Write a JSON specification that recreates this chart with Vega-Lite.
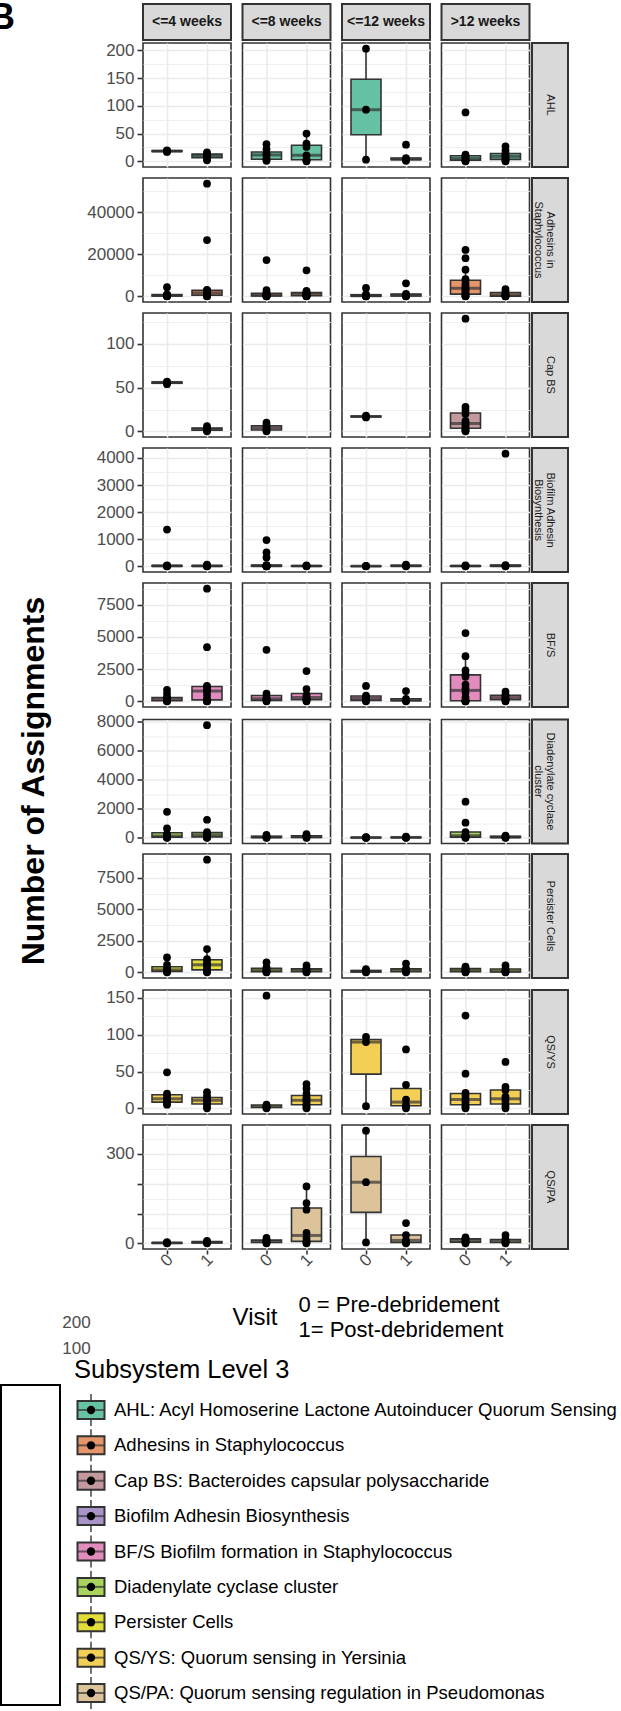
{
"$schema": "https://vega.github.io/schema/vega-lite/v6.json",
"padding": {"left": -11, "top": 0, "right": 0, "bottom": 0},
"title": {"text": "B", "anchor": "start", "frame": "bounds", "fontSize": 36, "fontWeight": "bold", "color": "black", "offset": -34, "dx": -11},
"datasets": {
"strips": [{"time": "<=4 weeks"}, {"time": "<=8 weeks"}, {"time": "<=12 weeks"}, {"time": ">12 weeks"}],
"legend": [
{"sub": "AHL", "label": "AHL: Acyl Homoserine Lactone Autoinducer Quorum Sensing"},
{"sub": "Adhesins", "label": "Adhesins in Staphylococcus"},
{"sub": "Cap BS", "label": "Cap BS: Bacteroides capsular polysaccharide"},
{"sub": "Biofilm", "label": "Biofilm Adhesin Biosynthesis"},
{"sub": "BF/S", "label": "BF/S Biofilm formation in Staphylococcus"},
{"sub": "Diadenylate", "label": "Diadenylate cyclase cluster"},
{"sub": "Persister", "label": "Persister Cells"},
{"sub": "QS/YS", "label": "QS/YS: Quorum sensing in Yersinia"},
{"sub": "QS/PA", "label": "QS/PA: Quorum sensing regulation in Pseudomonas"}
],
"pts": [
{"sub":"AHL","time":"<=4 weeks","visit":"0","value":17},{"sub":"AHL","time":"<=4 weeks","visit":"0","value":18},{"sub":"AHL","time":"<=4 weeks","visit":"0","value":19},{"sub":"AHL","time":"<=4 weeks","visit":"0","value":20},
{"sub":"AHL","time":"<=4 weeks","visit":"1","value":2},{"sub":"AHL","time":"<=4 weeks","visit":"1","value":5},{"sub":"AHL","time":"<=4 weeks","visit":"1","value":8},{"sub":"AHL","time":"<=4 weeks","visit":"1","value":10},{"sub":"AHL","time":"<=4 weeks","visit":"1","value":12},{"sub":"AHL","time":"<=4 weeks","visit":"1","value":14},{"sub":"AHL","time":"<=4 weeks","visit":"1","value":16},
{"sub":"AHL","time":"<=8 weeks","visit":"0","value":1},{"sub":"AHL","time":"<=8 weeks","visit":"0","value":3},{"sub":"AHL","time":"<=8 weeks","visit":"0","value":4},{"sub":"AHL","time":"<=8 weeks","visit":"0","value":10},{"sub":"AHL","time":"<=8 weeks","visit":"0","value":13},{"sub":"AHL","time":"<=8 weeks","visit":"0","value":15},{"sub":"AHL","time":"<=8 weeks","visit":"0","value":22},{"sub":"AHL","time":"<=8 weeks","visit":"0","value":31},
{"sub":"AHL","time":"<=8 weeks","visit":"1","value":0},{"sub":"AHL","time":"<=8 weeks","visit":"1","value":2},{"sub":"AHL","time":"<=8 weeks","visit":"1","value":4},{"sub":"AHL","time":"<=8 weeks","visit":"1","value":11},{"sub":"AHL","time":"<=8 weeks","visit":"1","value":26},{"sub":"AHL","time":"<=8 weeks","visit":"1","value":32},{"sub":"AHL","time":"<=8 weeks","visit":"1","value":50},
{"sub":"AHL","time":"<=12 weeks","visit":"0","value":3},{"sub":"AHL","time":"<=12 weeks","visit":"0","value":93},{"sub":"AHL","time":"<=12 weeks","visit":"0","value":203},
{"sub":"AHL","time":"<=12 weeks","visit":"1","value":1},{"sub":"AHL","time":"<=12 weeks","visit":"1","value":3},{"sub":"AHL","time":"<=12 weeks","visit":"1","value":4},{"sub":"AHL","time":"<=12 weeks","visit":"1","value":6},{"sub":"AHL","time":"<=12 weeks","visit":"1","value":30},
{"sub":"AHL","time":">12 weeks","visit":"0","value":0},{"sub":"AHL","time":">12 weeks","visit":"0","value":1},{"sub":"AHL","time":">12 weeks","visit":"0","value":2},{"sub":"AHL","time":">12 weeks","visit":"0","value":3},{"sub":"AHL","time":">12 weeks","visit":"0","value":5},{"sub":"AHL","time":">12 weeks","visit":"0","value":8},{"sub":"AHL","time":">12 weeks","visit":"0","value":10},{"sub":"AHL","time":">12 weeks","visit":"0","value":12},{"sub":"AHL","time":">12 weeks","visit":"0","value":88},
{"sub":"AHL","time":">12 weeks","visit":"1","value":0},{"sub":"AHL","time":">12 weeks","visit":"1","value":1},{"sub":"AHL","time":">12 weeks","visit":"1","value":3},{"sub":"AHL","time":">12 weeks","visit":"1","value":5},{"sub":"AHL","time":">12 weeks","visit":"1","value":8},{"sub":"AHL","time":">12 weeks","visit":"1","value":10},{"sub":"AHL","time":">12 weeks","visit":"1","value":12},{"sub":"AHL","time":">12 weeks","visit":"1","value":15},{"sub":"AHL","time":">12 weeks","visit":"1","value":20},{"sub":"AHL","time":">12 weeks","visit":"1","value":27},

{"sub":"Adhesins","time":"<=4 weeks","visit":"0","value":0},{"sub":"Adhesins","time":"<=4 weeks","visit":"0","value":100},{"sub":"Adhesins","time":"<=4 weeks","visit":"0","value":200},{"sub":"Adhesins","time":"<=4 weeks","visit":"0","value":400},{"sub":"Adhesins","time":"<=4 weeks","visit":"0","value":700},{"sub":"Adhesins","time":"<=4 weeks","visit":"0","value":1000},{"sub":"Adhesins","time":"<=4 weeks","visit":"0","value":4400},
{"sub":"Adhesins","time":"<=4 weeks","visit":"1","value":0},{"sub":"Adhesins","time":"<=4 weeks","visit":"1","value":100},{"sub":"Adhesins","time":"<=4 weeks","visit":"1","value":300},{"sub":"Adhesins","time":"<=4 weeks","visit":"1","value":600},{"sub":"Adhesins","time":"<=4 weeks","visit":"1","value":900},{"sub":"Adhesins","time":"<=4 weeks","visit":"1","value":1300},{"sub":"Adhesins","time":"<=4 weeks","visit":"1","value":1800},{"sub":"Adhesins","time":"<=4 weeks","visit":"1","value":2300},{"sub":"Adhesins","time":"<=4 weeks","visit":"1","value":2800},{"sub":"Adhesins","time":"<=4 weeks","visit":"1","value":3100},{"sub":"Adhesins","time":"<=4 weeks","visit":"1","value":26800},{"sub":"Adhesins","time":"<=4 weeks","visit":"1","value":53700},
{"sub":"Adhesins","time":"<=8 weeks","visit":"0","value":0},{"sub":"Adhesins","time":"<=8 weeks","visit":"0","value":50},{"sub":"Adhesins","time":"<=8 weeks","visit":"0","value":100},{"sub":"Adhesins","time":"<=8 weeks","visit":"0","value":200},{"sub":"Adhesins","time":"<=8 weeks","visit":"0","value":300},{"sub":"Adhesins","time":"<=8 weeks","visit":"0","value":400},{"sub":"Adhesins","time":"<=8 weeks","visit":"0","value":600},{"sub":"Adhesins","time":"<=8 weeks","visit":"0","value":800},{"sub":"Adhesins","time":"<=8 weeks","visit":"0","value":1200},{"sub":"Adhesins","time":"<=8 weeks","visit":"0","value":2000},{"sub":"Adhesins","time":"<=8 weeks","visit":"0","value":3000},{"sub":"Adhesins","time":"<=8 weeks","visit":"0","value":17300},
{"sub":"Adhesins","time":"<=8 weeks","visit":"1","value":0},{"sub":"Adhesins","time":"<=8 weeks","visit":"1","value":100},{"sub":"Adhesins","time":"<=8 weeks","visit":"1","value":200},{"sub":"Adhesins","time":"<=8 weeks","visit":"1","value":400},{"sub":"Adhesins","time":"<=8 weeks","visit":"1","value":600},{"sub":"Adhesins","time":"<=8 weeks","visit":"1","value":900},{"sub":"Adhesins","time":"<=8 weeks","visit":"1","value":1200},{"sub":"Adhesins","time":"<=8 weeks","visit":"1","value":1600},{"sub":"Adhesins","time":"<=8 weeks","visit":"1","value":2000},{"sub":"Adhesins","time":"<=8 weeks","visit":"1","value":2600},{"sub":"Adhesins","time":"<=8 weeks","visit":"1","value":12400},
{"sub":"Adhesins","time":"<=12 weeks","visit":"0","value":0},{"sub":"Adhesins","time":"<=12 weeks","visit":"0","value":50},{"sub":"Adhesins","time":"<=12 weeks","visit":"0","value":100},{"sub":"Adhesins","time":"<=12 weeks","visit":"0","value":300},{"sub":"Adhesins","time":"<=12 weeks","visit":"0","value":600},{"sub":"Adhesins","time":"<=12 weeks","visit":"0","value":1000},{"sub":"Adhesins","time":"<=12 weeks","visit":"0","value":4000},
{"sub":"Adhesins","time":"<=12 weeks","visit":"1","value":0},{"sub":"Adhesins","time":"<=12 weeks","visit":"1","value":100},{"sub":"Adhesins","time":"<=12 weeks","visit":"1","value":300},{"sub":"Adhesins","time":"<=12 weeks","visit":"1","value":700},{"sub":"Adhesins","time":"<=12 weeks","visit":"1","value":1200},{"sub":"Adhesins","time":"<=12 weeks","visit":"1","value":6200},
{"sub":"Adhesins","time":">12 weeks","visit":"0","value":0},{"sub":"Adhesins","time":">12 weeks","visit":"0","value":100},{"sub":"Adhesins","time":">12 weeks","visit":"0","value":300},{"sub":"Adhesins","time":">12 weeks","visit":"0","value":600},{"sub":"Adhesins","time":">12 weeks","visit":"0","value":1200},{"sub":"Adhesins","time":">12 weeks","visit":"0","value":2000},{"sub":"Adhesins","time":">12 weeks","visit":"0","value":2800},{"sub":"Adhesins","time":">12 weeks","visit":"0","value":3500},{"sub":"Adhesins","time":">12 weeks","visit":"0","value":4200},{"sub":"Adhesins","time":">12 weeks","visit":"0","value":5000},{"sub":"Adhesins","time":">12 weeks","visit":"0","value":6000},{"sub":"Adhesins","time":">12 weeks","visit":"0","value":7500},{"sub":"Adhesins","time":">12 weeks","visit":"0","value":8200},{"sub":"Adhesins","time":">12 weeks","visit":"0","value":12700},{"sub":"Adhesins","time":">12 weeks","visit":"0","value":18200},{"sub":"Adhesins","time":">12 weeks","visit":"0","value":22100},
{"sub":"Adhesins","time":">12 weeks","visit":"1","value":0},{"sub":"Adhesins","time":">12 weeks","visit":"1","value":50},{"sub":"Adhesins","time":">12 weeks","visit":"1","value":100},{"sub":"Adhesins","time":">12 weeks","visit":"1","value":300},{"sub":"Adhesins","time":">12 weeks","visit":"1","value":600},{"sub":"Adhesins","time":">12 weeks","visit":"1","value":1000},{"sub":"Adhesins","time":">12 weeks","visit":"1","value":1800},{"sub":"Adhesins","time":">12 weeks","visit":"1","value":2500},{"sub":"Adhesins","time":">12 weeks","visit":"1","value":3500},

{"sub":"Cap BS","time":"<=4 weeks","visit":"0","value":54},{"sub":"Cap BS","time":"<=4 weeks","visit":"0","value":56},{"sub":"Cap BS","time":"<=4 weeks","visit":"0","value":57},
{"sub":"Cap BS","time":"<=4 weeks","visit":"1","value":0},{"sub":"Cap BS","time":"<=4 weeks","visit":"1","value":1},{"sub":"Cap BS","time":"<=4 weeks","visit":"1","value":2},{"sub":"Cap BS","time":"<=4 weeks","visit":"1","value":3},{"sub":"Cap BS","time":"<=4 weeks","visit":"1","value":4},{"sub":"Cap BS","time":"<=4 weeks","visit":"1","value":6},
{"sub":"Cap BS","time":"<=8 weeks","visit":"0","value":0},{"sub":"Cap BS","time":"<=8 weeks","visit":"0","value":1},{"sub":"Cap BS","time":"<=8 weeks","visit":"0","value":3},{"sub":"Cap BS","time":"<=8 weeks","visit":"0","value":5},{"sub":"Cap BS","time":"<=8 weeks","visit":"0","value":7},{"sub":"Cap BS","time":"<=8 weeks","visit":"0","value":10},
{"sub":"Cap BS","time":"<=12 weeks","visit":"0","value":16},{"sub":"Cap BS","time":"<=12 weeks","visit":"0","value":17},{"sub":"Cap BS","time":"<=12 weeks","visit":"0","value":18},
{"sub":"Cap BS","time":">12 weeks","visit":"0","value":0},{"sub":"Cap BS","time":">12 weeks","visit":"0","value":1},{"sub":"Cap BS","time":">12 weeks","visit":"0","value":2},{"sub":"Cap BS","time":">12 weeks","visit":"0","value":4},{"sub":"Cap BS","time":">12 weeks","visit":"0","value":6},{"sub":"Cap BS","time":">12 weeks","visit":"0","value":8},{"sub":"Cap BS","time":">12 weeks","visit":"0","value":10},{"sub":"Cap BS","time":">12 weeks","visit":"0","value":12},{"sub":"Cap BS","time":">12 weeks","visit":"0","value":20},{"sub":"Cap BS","time":">12 weeks","visit":"0","value":24},{"sub":"Cap BS","time":">12 weeks","visit":"0","value":28},{"sub":"Cap BS","time":">12 weeks","visit":"0","value":129},

{"sub":"Biofilm","time":"<=4 weeks","visit":"0","value":0},{"sub":"Biofilm","time":"<=4 weeks","visit":"0","value":5},{"sub":"Biofilm","time":"<=4 weeks","visit":"0","value":10},{"sub":"Biofilm","time":"<=4 weeks","visit":"0","value":20},{"sub":"Biofilm","time":"<=4 weeks","visit":"0","value":40},{"sub":"Biofilm","time":"<=4 weeks","visit":"0","value":1360},
{"sub":"Biofilm","time":"<=4 weeks","visit":"1","value":0},{"sub":"Biofilm","time":"<=4 weeks","visit":"1","value":5},{"sub":"Biofilm","time":"<=4 weeks","visit":"1","value":15},{"sub":"Biofilm","time":"<=4 weeks","visit":"1","value":30},{"sub":"Biofilm","time":"<=4 weeks","visit":"1","value":60},
{"sub":"Biofilm","time":"<=8 weeks","visit":"0","value":0},{"sub":"Biofilm","time":"<=8 weeks","visit":"0","value":2},{"sub":"Biofilm","time":"<=8 weeks","visit":"0","value":5},{"sub":"Biofilm","time":"<=8 weeks","visit":"0","value":8},{"sub":"Biofilm","time":"<=8 weeks","visit":"0","value":10},{"sub":"Biofilm","time":"<=8 weeks","visit":"0","value":15},{"sub":"Biofilm","time":"<=8 weeks","visit":"0","value":20},{"sub":"Biofilm","time":"<=8 weeks","visit":"0","value":25},{"sub":"Biofilm","time":"<=8 weeks","visit":"0","value":30},{"sub":"Biofilm","time":"<=8 weeks","visit":"0","value":50},{"sub":"Biofilm","time":"<=8 weeks","visit":"0","value":330},{"sub":"Biofilm","time":"<=8 weeks","visit":"0","value":520},{"sub":"Biofilm","time":"<=8 weeks","visit":"0","value":970},
{"sub":"Biofilm","time":"<=8 weeks","visit":"1","value":0},{"sub":"Biofilm","time":"<=8 weeks","visit":"1","value":10},{"sub":"Biofilm","time":"<=8 weeks","visit":"1","value":20},{"sub":"Biofilm","time":"<=8 weeks","visit":"1","value":40},
{"sub":"Biofilm","time":"<=12 weeks","visit":"0","value":0},{"sub":"Biofilm","time":"<=12 weeks","visit":"0","value":5},{"sub":"Biofilm","time":"<=12 weeks","visit":"0","value":10},{"sub":"Biofilm","time":"<=12 weeks","visit":"0","value":20},
{"sub":"Biofilm","time":"<=12 weeks","visit":"1","value":0},{"sub":"Biofilm","time":"<=12 weeks","visit":"1","value":10},{"sub":"Biofilm","time":"<=12 weeks","visit":"1","value":30},{"sub":"Biofilm","time":"<=12 weeks","visit":"1","value":60},
{"sub":"Biofilm","time":">12 weeks","visit":"0","value":0},{"sub":"Biofilm","time":">12 weeks","visit":"0","value":10},{"sub":"Biofilm","time":">12 weeks","visit":"0","value":20},{"sub":"Biofilm","time":">12 weeks","visit":"0","value":40},
{"sub":"Biofilm","time":">12 weeks","visit":"1","value":0},{"sub":"Biofilm","time":">12 weeks","visit":"1","value":10},{"sub":"Biofilm","time":">12 weeks","visit":"1","value":20},{"sub":"Biofilm","time":">12 weeks","visit":"1","value":50},{"sub":"Biofilm","time":">12 weeks","visit":"1","value":4160},

{"sub":"BF/S","time":"<=4 weeks","visit":"0","value":0},{"sub":"BF/S","time":"<=4 weeks","visit":"0","value":20},{"sub":"BF/S","time":"<=4 weeks","visit":"0","value":50},{"sub":"BF/S","time":"<=4 weeks","visit":"0","value":100},{"sub":"BF/S","time":"<=4 weeks","visit":"0","value":150},{"sub":"BF/S","time":"<=4 weeks","visit":"0","value":250},{"sub":"BF/S","time":"<=4 weeks","visit":"0","value":300},{"sub":"BF/S","time":"<=4 weeks","visit":"0","value":600},{"sub":"BF/S","time":"<=4 weeks","visit":"0","value":900},
{"sub":"BF/S","time":"<=4 weeks","visit":"1","value":0},{"sub":"BF/S","time":"<=4 weeks","visit":"1","value":10},{"sub":"BF/S","time":"<=4 weeks","visit":"1","value":30},{"sub":"BF/S","time":"<=4 weeks","visit":"1","value":200},{"sub":"BF/S","time":"<=4 weeks","visit":"1","value":500},{"sub":"BF/S","time":"<=4 weeks","visit":"1","value":800},{"sub":"BF/S","time":"<=4 weeks","visit":"1","value":900},{"sub":"BF/S","time":"<=4 weeks","visit":"1","value":1100},{"sub":"BF/S","time":"<=4 weeks","visit":"1","value":1200},{"sub":"BF/S","time":"<=4 weeks","visit":"1","value":4200},{"sub":"BF/S","time":"<=4 weeks","visit":"1","value":8740},
{"sub":"BF/S","time":"<=8 weeks","visit":"0","value":0},{"sub":"BF/S","time":"<=8 weeks","visit":"0","value":50},{"sub":"BF/S","time":"<=8 weeks","visit":"0","value":100},{"sub":"BF/S","time":"<=8 weeks","visit":"0","value":200},{"sub":"BF/S","time":"<=8 weeks","visit":"0","value":300},{"sub":"BF/S","time":"<=8 weeks","visit":"0","value":600},{"sub":"BF/S","time":"<=8 weeks","visit":"0","value":4000},
{"sub":"BF/S","time":"<=8 weeks","visit":"1","value":0},{"sub":"BF/S","time":"<=8 weeks","visit":"1","value":50},{"sub":"BF/S","time":"<=8 weeks","visit":"1","value":150},{"sub":"BF/S","time":"<=8 weeks","visit":"1","value":250},{"sub":"BF/S","time":"<=8 weeks","visit":"1","value":350},{"sub":"BF/S","time":"<=8 weeks","visit":"1","value":500},{"sub":"BF/S","time":"<=8 weeks","visit":"1","value":950},{"sub":"BF/S","time":"<=8 weeks","visit":"1","value":2350},
{"sub":"BF/S","time":"<=12 weeks","visit":"0","value":0},{"sub":"BF/S","time":"<=12 weeks","visit":"0","value":50},{"sub":"BF/S","time":"<=12 weeks","visit":"0","value":150},{"sub":"BF/S","time":"<=12 weeks","visit":"0","value":300},{"sub":"BF/S","time":"<=12 weeks","visit":"0","value":450},{"sub":"BF/S","time":"<=12 weeks","visit":"0","value":1200},
{"sub":"BF/S","time":"<=12 weeks","visit":"1","value":0},{"sub":"BF/S","time":"<=12 weeks","visit":"1","value":50},{"sub":"BF/S","time":"<=12 weeks","visit":"1","value":100},{"sub":"BF/S","time":"<=12 weeks","visit":"1","value":200},{"sub":"BF/S","time":"<=12 weeks","visit":"1","value":800},
{"sub":"BF/S","time":">12 weeks","visit":"0","value":0},{"sub":"BF/S","time":">12 weeks","visit":"0","value":0},{"sub":"BF/S","time":">12 weeks","visit":"0","value":10},{"sub":"BF/S","time":">12 weeks","visit":"0","value":30},{"sub":"BF/S","time":">12 weeks","visit":"0","value":100},{"sub":"BF/S","time":">12 weeks","visit":"0","value":300},{"sub":"BF/S","time":">12 weeks","visit":"0","value":700},{"sub":"BF/S","time":">12 weeks","visit":"0","value":1000},{"sub":"BF/S","time":">12 weeks","visit":"0","value":1300},{"sub":"BF/S","time":">12 weeks","visit":"0","value":1900},{"sub":"BF/S","time":">12 weeks","visit":"0","value":2100},{"sub":"BF/S","time":">12 weeks","visit":"0","value":2400},{"sub":"BF/S","time":">12 weeks","visit":"0","value":3500},{"sub":"BF/S","time":">12 weeks","visit":"0","value":5300},
{"sub":"BF/S","time":">12 weeks","visit":"1","value":0},{"sub":"BF/S","time":">12 weeks","visit":"1","value":50},{"sub":"BF/S","time":">12 weeks","visit":"1","value":150},{"sub":"BF/S","time":">12 weeks","visit":"1","value":250},{"sub":"BF/S","time":">12 weeks","visit":"1","value":300},{"sub":"BF/S","time":">12 weeks","visit":"1","value":450},{"sub":"BF/S","time":">12 weeks","visit":"1","value":520},{"sub":"BF/S","time":">12 weeks","visit":"1","value":750},

{"sub":"Diadenylate","time":"<=4 weeks","visit":"0","value":0},{"sub":"Diadenylate","time":"<=4 weeks","visit":"0","value":30},{"sub":"Diadenylate","time":"<=4 weeks","visit":"0","value":60},{"sub":"Diadenylate","time":"<=4 weeks","visit":"0","value":100},{"sub":"Diadenylate","time":"<=4 weeks","visit":"0","value":150},{"sub":"Diadenylate","time":"<=4 weeks","visit":"0","value":250},{"sub":"Diadenylate","time":"<=4 weeks","visit":"0","value":650},{"sub":"Diadenylate","time":"<=4 weeks","visit":"0","value":1800},
{"sub":"Diadenylate","time":"<=4 weeks","visit":"1","value":0},{"sub":"Diadenylate","time":"<=4 weeks","visit":"1","value":30},{"sub":"Diadenylate","time":"<=4 weeks","visit":"1","value":60},{"sub":"Diadenylate","time":"<=4 weeks","visit":"1","value":100},{"sub":"Diadenylate","time":"<=4 weeks","visit":"1","value":150},{"sub":"Diadenylate","time":"<=4 weeks","visit":"1","value":200},{"sub":"Diadenylate","time":"<=4 weeks","visit":"1","value":250},{"sub":"Diadenylate","time":"<=4 weeks","visit":"1","value":400},{"sub":"Diadenylate","time":"<=4 weeks","visit":"1","value":1250},{"sub":"Diadenylate","time":"<=4 weeks","visit":"1","value":7780},
{"sub":"Diadenylate","time":"<=8 weeks","visit":"0","value":0},{"sub":"Diadenylate","time":"<=8 weeks","visit":"0","value":20},{"sub":"Diadenylate","time":"<=8 weeks","visit":"0","value":50},{"sub":"Diadenylate","time":"<=8 weeks","visit":"0","value":100},{"sub":"Diadenylate","time":"<=8 weeks","visit":"0","value":200},
{"sub":"Diadenylate","time":"<=8 weeks","visit":"1","value":0},{"sub":"Diadenylate","time":"<=8 weeks","visit":"1","value":30},{"sub":"Diadenylate","time":"<=8 weeks","visit":"1","value":80},{"sub":"Diadenylate","time":"<=8 weeks","visit":"1","value":150},{"sub":"Diadenylate","time":"<=8 weeks","visit":"1","value":250},
{"sub":"Diadenylate","time":"<=12 weeks","visit":"0","value":0},{"sub":"Diadenylate","time":"<=12 weeks","visit":"0","value":10},{"sub":"Diadenylate","time":"<=12 weeks","visit":"0","value":30},{"sub":"Diadenylate","time":"<=12 weeks","visit":"0","value":50},
{"sub":"Diadenylate","time":"<=12 weeks","visit":"1","value":0},{"sub":"Diadenylate","time":"<=12 weeks","visit":"1","value":20},{"sub":"Diadenylate","time":"<=12 weeks","visit":"1","value":40},{"sub":"Diadenylate","time":"<=12 weeks","visit":"1","value":80},
{"sub":"Diadenylate","time":">12 weeks","visit":"0","value":0},{"sub":"Diadenylate","time":">12 weeks","visit":"0","value":20},{"sub":"Diadenylate","time":">12 weeks","visit":"0","value":50},{"sub":"Diadenylate","time":">12 weeks","visit":"0","value":100},{"sub":"Diadenylate","time":">12 weeks","visit":"0","value":150},{"sub":"Diadenylate","time":">12 weeks","visit":"0","value":200},{"sub":"Diadenylate","time":">12 weeks","visit":"0","value":400},{"sub":"Diadenylate","time":">12 weeks","visit":"0","value":1050},{"sub":"Diadenylate","time":">12 weeks","visit":"0","value":2500},
{"sub":"Diadenylate","time":">12 weeks","visit":"1","value":0},{"sub":"Diadenylate","time":">12 weeks","visit":"1","value":20},{"sub":"Diadenylate","time":">12 weeks","visit":"1","value":50},{"sub":"Diadenylate","time":">12 weeks","visit":"1","value":100},{"sub":"Diadenylate","time":">12 weeks","visit":"1","value":150},

{"sub":"Persister","time":"<=4 weeks","visit":"0","value":0},{"sub":"Persister","time":"<=4 weeks","visit":"0","value":50},{"sub":"Persister","time":"<=4 weeks","visit":"0","value":100},{"sub":"Persister","time":"<=4 weeks","visit":"0","value":200},{"sub":"Persister","time":"<=4 weeks","visit":"0","value":300},{"sub":"Persister","time":"<=4 weeks","visit":"0","value":600},{"sub":"Persister","time":"<=4 weeks","visit":"0","value":1180},
{"sub":"Persister","time":"<=4 weeks","visit":"1","value":0},{"sub":"Persister","time":"<=4 weeks","visit":"1","value":50},{"sub":"Persister","time":"<=4 weeks","visit":"1","value":150},{"sub":"Persister","time":"<=4 weeks","visit":"1","value":350},{"sub":"Persister","time":"<=4 weeks","visit":"1","value":550},{"sub":"Persister","time":"<=4 weeks","visit":"1","value":650},{"sub":"Persister","time":"<=4 weeks","visit":"1","value":850},{"sub":"Persister","time":"<=4 weeks","visit":"1","value":1050},{"sub":"Persister","time":"<=4 weeks","visit":"1","value":1850},{"sub":"Persister","time":"<=4 weeks","visit":"1","value":8945},
{"sub":"Persister","time":"<=8 weeks","visit":"0","value":0},{"sub":"Persister","time":"<=8 weeks","visit":"0","value":30},{"sub":"Persister","time":"<=8 weeks","visit":"0","value":80},{"sub":"Persister","time":"<=8 weeks","visit":"0","value":150},{"sub":"Persister","time":"<=8 weeks","visit":"0","value":250},{"sub":"Persister","time":"<=8 weeks","visit":"0","value":400},{"sub":"Persister","time":"<=8 weeks","visit":"0","value":800},
{"sub":"Persister","time":"<=8 weeks","visit":"1","value":0},{"sub":"Persister","time":"<=8 weeks","visit":"1","value":50},{"sub":"Persister","time":"<=8 weeks","visit":"1","value":100},{"sub":"Persister","time":"<=8 weeks","visit":"1","value":200},{"sub":"Persister","time":"<=8 weeks","visit":"1","value":300},{"sub":"Persister","time":"<=8 weeks","visit":"1","value":550},
{"sub":"Persister","time":"<=12 weeks","visit":"0","value":0},{"sub":"Persister","time":"<=12 weeks","visit":"0","value":30},{"sub":"Persister","time":"<=12 weeks","visit":"0","value":80},{"sub":"Persister","time":"<=12 weeks","visit":"0","value":150},{"sub":"Persister","time":"<=12 weeks","visit":"0","value":250},
{"sub":"Persister","time":"<=12 weeks","visit":"1","value":0},{"sub":"Persister","time":"<=12 weeks","visit":"1","value":50},{"sub":"Persister","time":"<=12 weeks","visit":"1","value":100},{"sub":"Persister","time":"<=12 weeks","visit":"1","value":200},{"sub":"Persister","time":"<=12 weeks","visit":"1","value":300},{"sub":"Persister","time":"<=12 weeks","visit":"1","value":700},
{"sub":"Persister","time":">12 weeks","visit":"0","value":0},{"sub":"Persister","time":">12 weeks","visit":"0","value":30},{"sub":"Persister","time":">12 weeks","visit":"0","value":80},{"sub":"Persister","time":">12 weeks","visit":"0","value":150},{"sub":"Persister","time":">12 weeks","visit":"0","value":250},{"sub":"Persister","time":">12 weeks","visit":"0","value":350},{"sub":"Persister","time":">12 weeks","visit":"0","value":450},
{"sub":"Persister","time":">12 weeks","visit":"1","value":0},{"sub":"Persister","time":">12 weeks","visit":"1","value":20},{"sub":"Persister","time":">12 weeks","visit":"1","value":60},{"sub":"Persister","time":">12 weeks","visit":"1","value":150},{"sub":"Persister","time":">12 weeks","visit":"1","value":300},{"sub":"Persister","time":">12 weeks","visit":"1","value":550},

{"sub":"QS/YS","time":"<=4 weeks","visit":"0","value":5},{"sub":"QS/YS","time":"<=4 weeks","visit":"0","value":7},{"sub":"QS/YS","time":"<=4 weeks","visit":"0","value":10},{"sub":"QS/YS","time":"<=4 weeks","visit":"0","value":13},{"sub":"QS/YS","time":"<=4 weeks","visit":"0","value":17},{"sub":"QS/YS","time":"<=4 weeks","visit":"0","value":20},{"sub":"QS/YS","time":"<=4 weeks","visit":"0","value":49},
{"sub":"QS/YS","time":"<=4 weeks","visit":"1","value":0},{"sub":"QS/YS","time":"<=4 weeks","visit":"1","value":3},{"sub":"QS/YS","time":"<=4 weeks","visit":"1","value":7},{"sub":"QS/YS","time":"<=4 weeks","visit":"1","value":10},{"sub":"QS/YS","time":"<=4 weeks","visit":"1","value":12},{"sub":"QS/YS","time":"<=4 weeks","visit":"1","value":14},{"sub":"QS/YS","time":"<=4 weeks","visit":"1","value":17},{"sub":"QS/YS","time":"<=4 weeks","visit":"1","value":22},
{"sub":"QS/YS","time":"<=8 weeks","visit":"0","value":0},{"sub":"QS/YS","time":"<=8 weeks","visit":"0","value":1},{"sub":"QS/YS","time":"<=8 weeks","visit":"0","value":2},{"sub":"QS/YS","time":"<=8 weeks","visit":"0","value":3},{"sub":"QS/YS","time":"<=8 weeks","visit":"0","value":5},{"sub":"QS/YS","time":"<=8 weeks","visit":"0","value":153},
{"sub":"QS/YS","time":"<=8 weeks","visit":"1","value":0},{"sub":"QS/YS","time":"<=8 weeks","visit":"1","value":2},{"sub":"QS/YS","time":"<=8 weeks","visit":"1","value":4},{"sub":"QS/YS","time":"<=8 weeks","visit":"1","value":6},{"sub":"QS/YS","time":"<=8 weeks","visit":"1","value":9},{"sub":"QS/YS","time":"<=8 weeks","visit":"1","value":11},{"sub":"QS/YS","time":"<=8 weeks","visit":"1","value":13},{"sub":"QS/YS","time":"<=8 weeks","visit":"1","value":15},{"sub":"QS/YS","time":"<=8 weeks","visit":"1","value":20},{"sub":"QS/YS","time":"<=8 weeks","visit":"1","value":27},{"sub":"QS/YS","time":"<=8 weeks","visit":"1","value":33},
{"sub":"QS/YS","time":"<=12 weeks","visit":"0","value":3},{"sub":"QS/YS","time":"<=12 weeks","visit":"0","value":90},{"sub":"QS/YS","time":"<=12 weeks","visit":"0","value":97},
{"sub":"QS/YS","time":"<=12 weeks","visit":"1","value":0},{"sub":"QS/YS","time":"<=12 weeks","visit":"1","value":3},{"sub":"QS/YS","time":"<=12 weeks","visit":"1","value":5},{"sub":"QS/YS","time":"<=12 weeks","visit":"1","value":12},{"sub":"QS/YS","time":"<=12 weeks","visit":"1","value":32},{"sub":"QS/YS","time":"<=12 weeks","visit":"1","value":80},
{"sub":"QS/YS","time":">12 weeks","visit":"0","value":0},{"sub":"QS/YS","time":">12 weeks","visit":"0","value":2},{"sub":"QS/YS","time":">12 weeks","visit":"0","value":4},{"sub":"QS/YS","time":">12 weeks","visit":"0","value":8},{"sub":"QS/YS","time":">12 weeks","visit":"0","value":10},{"sub":"QS/YS","time":">12 weeks","visit":"0","value":14},{"sub":"QS/YS","time":">12 weeks","visit":"0","value":18},{"sub":"QS/YS","time":">12 weeks","visit":"0","value":21},{"sub":"QS/YS","time":">12 weeks","visit":"0","value":47},{"sub":"QS/YS","time":">12 weeks","visit":"0","value":126},
{"sub":"QS/YS","time":">12 weeks","visit":"1","value":0},{"sub":"QS/YS","time":">12 weeks","visit":"1","value":3},{"sub":"QS/YS","time":">12 weeks","visit":"1","value":6},{"sub":"QS/YS","time":">12 weeks","visit":"1","value":10},{"sub":"QS/YS","time":">12 weeks","visit":"1","value":13},{"sub":"QS/YS","time":">12 weeks","visit":"1","value":16},{"sub":"QS/YS","time":">12 weeks","visit":"1","value":25},{"sub":"QS/YS","time":">12 weeks","visit":"1","value":29},{"sub":"QS/YS","time":">12 weeks","visit":"1","value":63},

{"sub":"QS/PA","time":"<=4 weeks","visit":"0","value":0},{"sub":"QS/PA","time":"<=4 weeks","visit":"0","value":1},{"sub":"QS/PA","time":"<=4 weeks","visit":"0","value":2},{"sub":"QS/PA","time":"<=4 weeks","visit":"0","value":4},
{"sub":"QS/PA","time":"<=4 weeks","visit":"1","value":0},{"sub":"QS/PA","time":"<=4 weeks","visit":"1","value":2},{"sub":"QS/PA","time":"<=4 weeks","visit":"1","value":5},{"sub":"QS/PA","time":"<=4 weeks","visit":"1","value":8},
{"sub":"QS/PA","time":"<=8 weeks","visit":"0","value":0},{"sub":"QS/PA","time":"<=8 weeks","visit":"0","value":2},{"sub":"QS/PA","time":"<=8 weeks","visit":"0","value":5},{"sub":"QS/PA","time":"<=8 weeks","visit":"0","value":8},{"sub":"QS/PA","time":"<=8 weeks","visit":"0","value":12},{"sub":"QS/PA","time":"<=8 weeks","visit":"0","value":18},
{"sub":"QS/PA","time":"<=8 weeks","visit":"1","value":0},{"sub":"QS/PA","time":"<=8 weeks","visit":"1","value":3},{"sub":"QS/PA","time":"<=8 weeks","visit":"1","value":8},{"sub":"QS/PA","time":"<=8 weeks","visit":"1","value":18},{"sub":"QS/PA","time":"<=8 weeks","visit":"1","value":35},{"sub":"QS/PA","time":"<=8 weeks","visit":"1","value":113},{"sub":"QS/PA","time":"<=8 weeks","visit":"1","value":135},{"sub":"QS/PA","time":"<=8 weeks","visit":"1","value":191},
{"sub":"QS/PA","time":"<=12 weeks","visit":"0","value":3},{"sub":"QS/PA","time":"<=12 weeks","visit":"0","value":205},{"sub":"QS/PA","time":"<=12 weeks","visit":"0","value":378},
{"sub":"QS/PA","time":"<=12 weeks","visit":"1","value":0},{"sub":"QS/PA","time":"<=12 weeks","visit":"1","value":3},{"sub":"QS/PA","time":"<=12 weeks","visit":"1","value":10},{"sub":"QS/PA","time":"<=12 weeks","visit":"1","value":28},{"sub":"QS/PA","time":"<=12 weeks","visit":"1","value":68},
{"sub":"QS/PA","time":">12 weeks","visit":"0","value":0},{"sub":"QS/PA","time":">12 weeks","visit":"0","value":3},{"sub":"QS/PA","time":">12 weeks","visit":"0","value":8},{"sub":"QS/PA","time":">12 weeks","visit":"0","value":12},{"sub":"QS/PA","time":">12 weeks","visit":"0","value":16},{"sub":"QS/PA","time":">12 weeks","visit":"0","value":20},
{"sub":"QS/PA","time":">12 weeks","visit":"1","value":0},{"sub":"QS/PA","time":">12 weeks","visit":"1","value":2},{"sub":"QS/PA","time":">12 weeks","visit":"1","value":5},{"sub":"QS/PA","time":">12 weeks","visit":"1","value":10},{"sub":"QS/PA","time":">12 weeks","visit":"1","value":14},{"sub":"QS/PA","time":">12 weeks","visit":"1","value":28}
]
},
"config": {
"font": "Liberation Sans",
"view": {"stroke": "#333333", "strokeWidth": 1.6},
"axis": {"labelColor": "#4d4d4d", "labelFontSize": 17, "tickColor": "#333333", "tickWidth": 1.6, "domain": false, "gridColor": "#ebebeb", "labelFont": "Liberation Sans"},
"title": {"color": "black", "font": "Liberation Sans"},
"text": {"font": "Liberation Sans"}
},
"spacing": 23,
"vconcat": [
{
"spacing": 19,
"hconcat": [
{"width": 66, "height": 1244, "view": {"stroke": null}, "data": {"values": [{"t": "Number of Assignments"}]}, "mark": {"type": "text", "angle": 270, "fontSize": 32, "fontWeight": "bold", "color": "black", "dx": -155}, "encoding": {"text": {"field": "t"}}},
{
"spacing": 7,
"vconcat": [
{"spacing": 0, "vconcat": [
{"data": {"name": "strips"}, "facet": {"column": {"field": "time", "type": "ordinal", "sort": ["<=4 weeks","<=8 weeks","<=12 weeks",">12 weeks"], "header": {"labels": false, "title": null}}}, "spacing": 9.5,
 "spec": {"width": 88, "height": 36, "view": {"fill": "#d9d9d9", "stroke": "#333333", "strokeWidth": 2}, "mark": {"type": "text", "fontSize": 14, "fontWeight": "bold", "color": "#1a1a1a"}, "encoding": {"text": {"field": "time"}}}},
{"spacing": 0, "hconcat": [
{"data": {"name": "pts"}, "transform": [{"filter": {"field": "sub", "equal": "AHL"}}], "facet": {"column": {"field": "time", "type": "ordinal", "sort": ["<=4 weeks","<=8 weeks","<=12 weeks",">12 weeks"], "header": {"labels": false, "title": null}}}, "spacing": 9.5,
 "spec": {"width": 88, "height": 124, "resolve": {"axis": {"y": "independent"}}, "layer": [
  {"mark": {"type": "boxplot", "extent": 1.5, "size": 30, "outliers": false, "box": {"stroke": "#333333", "strokeWidth": 1.6}, "median": {"color": "#333333", "thickness": 3}, "rule": {"color": "#333333", "strokeWidth": 1.6}},
   "encoding": {"x": {"field": "visit", "type": "nominal", "scale": {"domain": ["0","1"], "paddingInner": 0.25, "paddingOuter": 0.225}, "axis": {"labels": false, "ticks": false, "title": null, "grid": true, "gridWidth": 1.6, "bandPosition": 0.5}},
    "y": {"field": "value", "type": "quantitative", "scale": {"domain": [-10.15, 213.15], "nice": false, "zero": false}, "axis": {"title": null, "values": [0,50,100,150,200], "format": "d", "labelOverlap": false, "tickSize": 5, "labelPadding": 3, "grid": true, "gridWidth": 1.6}},
    "color": {"field": "sub", "type": "nominal", "scale": {"domain": ["AHL","Adhesins","Cap BS","Biofilm","BF/S","Diadenylate","Persister","QS/YS","QS/PA"], "range": ["#66c2a5","#e5956a","#c4999d","#a894c8","#e28cbd","#a8d35c","#e3dd3a","#f4cf56","#ddc39a"]}, "legend": null}}},
  {"mark": {"type": "circle", "size": 60, "color": "black", "opacity": 1}, "encoding": {"x": {"field": "visit", "type": "nominal"}, "y": {"field": "value", "type": "quantitative", "axis": {"orient": "left", "title": null, "values": [25,75,125,175], "labels": false, "ticks": false, "domain": false, "grid": true, "gridWidth": 0.8}}}}
 ]}},
{"width": 36, "height": 124, "view": {"fill": "#d9d9d9", "stroke": "#333333", "strokeWidth": 2}, "data": {"values": [{"lab": "AHL"}]}, "mark": {"type": "text", "angle": 90, "fontSize": 11, "lineHeight": 12, "color": "#1a1a1a", "lineBreak": "\n"}, "encoding": {"text": {"field": "lab"}}}
]}
]},
{"spacing": 0, "hconcat": [
{"data": {"name": "pts"}, "transform": [{"filter": {"field": "sub", "equal": "Adhesins"}}], "facet": {"column": {"field": "time", "type": "ordinal", "sort": ["<=4 weeks","<=8 weeks","<=12 weeks",">12 weeks"], "header": {"labels": false, "title": null}}}, "spacing": 9.5,
 "spec": {"width": 88, "height": 124, "resolve": {"axis": {"y": "independent"}}, "layer": [
  {"mark": {"type": "boxplot", "extent": 1.5, "size": 30, "outliers": false, "box": {"stroke": "#333333", "strokeWidth": 1.6}, "median": {"color": "#333333", "thickness": 3}, "rule": {"color": "#333333", "strokeWidth": 1.6}},
   "encoding": {"x": {"field": "visit", "type": "nominal", "scale": {"domain": ["0","1"], "paddingInner": 0.25, "paddingOuter": 0.225}, "axis": {"labels": false, "ticks": false, "title": null, "grid": true, "gridWidth": 1.6, "bandPosition": 0.5}},
    "y": {"field": "value", "type": "quantitative", "scale": {"domain": [-2685, 56385], "nice": false, "zero": false}, "axis": {"title": null, "values": [0,20000,40000], "format": "d", "labelOverlap": false, "tickSize": 5, "labelPadding": 3, "grid": true, "gridWidth": 1.6}},
    "color": {"field": "sub", "type": "nominal", "scale": {"domain": ["AHL","Adhesins","Cap BS","Biofilm","BF/S","Diadenylate","Persister","QS/YS","QS/PA"], "range": ["#66c2a5","#e5956a","#c4999d","#a894c8","#e28cbd","#a8d35c","#e3dd3a","#f4cf56","#ddc39a"]}, "legend": null}}},
  {"mark": {"type": "circle", "size": 60, "color": "black", "opacity": 1}, "encoding": {"x": {"field": "visit", "type": "nominal"}, "y": {"field": "value", "type": "quantitative", "axis": {"orient": "left", "title": null, "values": [10000,30000,50000], "labels": false, "ticks": false, "domain": false, "grid": true, "gridWidth": 0.8}}}}
 ]}},
{"width": 36, "height": 124, "view": {"fill": "#d9d9d9", "stroke": "#333333", "strokeWidth": 2}, "data": {"values": [{"lab": "Adhesins in\nStaphylococcus"}]}, "mark": {"type": "text", "angle": 90, "fontSize": 11, "lineHeight": 12, "color": "#1a1a1a", "lineBreak": "\n"}, "encoding": {"text": {"field": "lab"}}}
]},
{"spacing": 0, "hconcat": [
{"data": {"name": "pts"}, "transform": [{"filter": {"field": "sub", "equal": "Cap BS"}}], "facet": {"column": {"field": "time", "type": "ordinal", "sort": ["<=4 weeks","<=8 weeks","<=12 weeks",">12 weeks"], "header": {"labels": false, "title": null}}}, "spacing": 9.5,
 "spec": {"width": 88, "height": 124, "resolve": {"axis": {"y": "independent"}}, "layer": [
  {"mark": {"type": "boxplot", "extent": 1.5, "size": 30, "outliers": false, "box": {"stroke": "#333333", "strokeWidth": 1.6}, "median": {"color": "#333333", "thickness": 3}, "rule": {"color": "#333333", "strokeWidth": 1.6}},
   "encoding": {"x": {"field": "visit", "type": "nominal", "scale": {"domain": ["0","1"], "paddingInner": 0.25, "paddingOuter": 0.225}, "axis": {"labels": false, "ticks": false, "title": null, "grid": true, "gridWidth": 1.6, "bandPosition": 0.5}},
    "y": {"field": "value", "type": "quantitative", "scale": {"domain": [-6.45, 135.45], "nice": false, "zero": false}, "axis": {"title": null, "values": [0,50,100], "format": "d", "labelOverlap": false, "tickSize": 5, "labelPadding": 3, "grid": true, "gridWidth": 1.6}},
    "color": {"field": "sub", "type": "nominal", "scale": {"domain": ["AHL","Adhesins","Cap BS","Biofilm","BF/S","Diadenylate","Persister","QS/YS","QS/PA"], "range": ["#66c2a5","#e5956a","#c4999d","#a894c8","#e28cbd","#a8d35c","#e3dd3a","#f4cf56","#ddc39a"]}, "legend": null}}},
  {"mark": {"type": "circle", "size": 60, "color": "black", "opacity": 1}, "encoding": {"x": {"field": "visit", "type": "nominal"}, "y": {"field": "value", "type": "quantitative", "axis": {"orient": "left", "title": null, "values": [25,75,125], "labels": false, "ticks": false, "domain": false, "grid": true, "gridWidth": 0.8}}}}
 ]}},
{"width": 36, "height": 124, "view": {"fill": "#d9d9d9", "stroke": "#333333", "strokeWidth": 2}, "data": {"values": [{"lab": "Cap BS"}]}, "mark": {"type": "text", "angle": 90, "fontSize": 11, "lineHeight": 12, "color": "#1a1a1a", "lineBreak": "\n"}, "encoding": {"text": {"field": "lab"}}}
]},
{"spacing": 0, "hconcat": [
{"data": {"name": "pts"}, "transform": [{"filter": {"field": "sub", "equal": "Biofilm"}}], "facet": {"column": {"field": "time", "type": "ordinal", "sort": ["<=4 weeks","<=8 weeks","<=12 weeks",">12 weeks"], "header": {"labels": false, "title": null}}}, "spacing": 9.5,
 "spec": {"width": 88, "height": 124, "resolve": {"axis": {"y": "independent"}}, "layer": [
  {"mark": {"type": "boxplot", "extent": 1.5, "size": 30, "outliers": false, "box": {"stroke": "#333333", "strokeWidth": 1.6}, "median": {"color": "#333333", "thickness": 3}, "rule": {"color": "#333333", "strokeWidth": 1.6}},
   "encoding": {"x": {"field": "visit", "type": "nominal", "scale": {"domain": ["0","1"], "paddingInner": 0.25, "paddingOuter": 0.225}, "axis": {"labels": false, "ticks": false, "title": null, "grid": true, "gridWidth": 1.6, "bandPosition": 0.5}},
    "y": {"field": "value", "type": "quantitative", "scale": {"domain": [-208, 4368], "nice": false, "zero": false}, "axis": {"title": null, "values": [0,1000,2000,3000,4000], "format": "d", "labelOverlap": false, "tickSize": 5, "labelPadding": 3, "grid": true, "gridWidth": 1.6}},
    "color": {"field": "sub", "type": "nominal", "scale": {"domain": ["AHL","Adhesins","Cap BS","Biofilm","BF/S","Diadenylate","Persister","QS/YS","QS/PA"], "range": ["#66c2a5","#e5956a","#c4999d","#a894c8","#e28cbd","#a8d35c","#e3dd3a","#f4cf56","#ddc39a"]}, "legend": null}}},
  {"mark": {"type": "circle", "size": 60, "color": "black", "opacity": 1}, "encoding": {"x": {"field": "visit", "type": "nominal"}, "y": {"field": "value", "type": "quantitative", "axis": {"orient": "left", "title": null, "values": [500,1500,2500,3500], "labels": false, "ticks": false, "domain": false, "grid": true, "gridWidth": 0.8}}}}
 ]}},
{"width": 36, "height": 124, "view": {"fill": "#d9d9d9", "stroke": "#333333", "strokeWidth": 2}, "data": {"values": [{"lab": "Biofilm Adhesin\nBiosynthesis"}]}, "mark": {"type": "text", "angle": 90, "fontSize": 11, "lineHeight": 12, "color": "#1a1a1a", "lineBreak": "\n"}, "encoding": {"text": {"field": "lab"}}}
]},
{"spacing": 2.5, "vconcat": [
{"spacing": 0, "hconcat": [
{"data": {"name": "pts"}, "transform": [{"filter": {"field": "sub", "equal": "BF/S"}}], "facet": {"column": {"field": "time", "type": "ordinal", "sort": ["<=4 weeks","<=8 weeks","<=12 weeks",">12 weeks"], "header": {"labels": false, "title": null}}}, "spacing": 9.5,
 "spec": {"width": 88, "height": 124, "resolve": {"axis": {"y": "independent"}}, "layer": [
  {"mark": {"type": "boxplot", "extent": 1.5, "size": 30, "outliers": false, "box": {"stroke": "#333333", "strokeWidth": 1.6}, "median": {"color": "#333333", "thickness": 3}, "rule": {"color": "#333333", "strokeWidth": 1.6}},
   "encoding": {"x": {"field": "visit", "type": "nominal", "scale": {"domain": ["0","1"], "paddingInner": 0.25, "paddingOuter": 0.225}, "axis": {"labels": false, "ticks": false, "title": null, "grid": true, "gridWidth": 1.6, "bandPosition": 0.5}},
    "y": {"field": "value", "type": "quantitative", "scale": {"domain": [-437, 9177], "nice": false, "zero": false}, "axis": {"title": null, "values": [0,2500,5000,7500], "format": "d", "labelOverlap": false, "tickSize": 5, "labelPadding": 3, "grid": true, "gridWidth": 1.6}},
    "color": {"field": "sub", "type": "nominal", "scale": {"domain": ["AHL","Adhesins","Cap BS","Biofilm","BF/S","Diadenylate","Persister","QS/YS","QS/PA"], "range": ["#66c2a5","#e5956a","#c4999d","#a894c8","#e28cbd","#a8d35c","#e3dd3a","#f4cf56","#ddc39a"]}, "legend": null}}},
  {"mark": {"type": "circle", "size": 60, "color": "black", "opacity": 1}, "encoding": {"x": {"field": "visit", "type": "nominal"}, "y": {"field": "value", "type": "quantitative", "axis": {"orient": "left", "title": null, "values": [1250,3750,6250,8750], "labels": false, "ticks": false, "domain": false, "grid": true, "gridWidth": 0.8}}}}
 ]}},
{"width": 36, "height": 124, "view": {"fill": "#d9d9d9", "stroke": "#333333", "strokeWidth": 2}, "data": {"values": [{"lab": "BF/S"}]}, "mark": {"type": "text", "angle": 90, "fontSize": 11, "lineHeight": 12, "color": "#1a1a1a", "lineBreak": "\n"}, "encoding": {"text": {"field": "lab"}}}
]},
{"spacing": 0, "hconcat": [
{"data": {"name": "pts"}, "transform": [{"filter": {"field": "sub", "equal": "Diadenylate"}}], "facet": {"column": {"field": "time", "type": "ordinal", "sort": ["<=4 weeks","<=8 weeks","<=12 weeks",">12 weeks"], "header": {"labels": false, "title": null}}}, "spacing": 9.5,
 "spec": {"width": 88, "height": 124, "resolve": {"axis": {"y": "independent"}}, "layer": [
  {"mark": {"type": "boxplot", "extent": 1.5, "size": 30, "outliers": false, "box": {"stroke": "#333333", "strokeWidth": 1.6}, "median": {"color": "#333333", "thickness": 3}, "rule": {"color": "#333333", "strokeWidth": 1.6}},
   "encoding": {"x": {"field": "visit", "type": "nominal", "scale": {"domain": ["0","1"], "paddingInner": 0.25, "paddingOuter": 0.225}, "axis": {"labels": false, "ticks": false, "title": null, "grid": true, "gridWidth": 1.6, "bandPosition": 0.5}},
    "y": {"field": "value", "type": "quantitative", "scale": {"domain": [-389, 8169], "nice": false, "zero": false}, "axis": {"title": null, "values": [0,2000,4000,6000,8000], "format": "d", "labelOverlap": false, "tickSize": 5, "labelPadding": 3, "grid": true, "gridWidth": 1.6}},
    "color": {"field": "sub", "type": "nominal", "scale": {"domain": ["AHL","Adhesins","Cap BS","Biofilm","BF/S","Diadenylate","Persister","QS/YS","QS/PA"], "range": ["#66c2a5","#e5956a","#c4999d","#a894c8","#e28cbd","#a8d35c","#e3dd3a","#f4cf56","#ddc39a"]}, "legend": null}}},
  {"mark": {"type": "circle", "size": 60, "color": "black", "opacity": 1}, "encoding": {"x": {"field": "visit", "type": "nominal"}, "y": {"field": "value", "type": "quantitative", "axis": {"orient": "left", "title": null, "values": [1000,3000,5000,7000], "labels": false, "ticks": false, "domain": false, "grid": true, "gridWidth": 0.8}}}}
 ]}},
{"width": 36, "height": 124, "view": {"fill": "#d9d9d9", "stroke": "#333333", "strokeWidth": 2}, "data": {"values": [{"lab": "Diadenylate cyclase\ncluster"}]}, "mark": {"type": "text", "angle": 90, "fontSize": 11, "lineHeight": 12, "color": "#1a1a1a", "lineBreak": "\n"}, "encoding": {"text": {"field": "lab"}}}
]}
]},
{"spacing": 0, "hconcat": [
{"data": {"name": "pts"}, "transform": [{"filter": {"field": "sub", "equal": "Persister"}}], "facet": {"column": {"field": "time", "type": "ordinal", "sort": ["<=4 weeks","<=8 weeks","<=12 weeks",">12 weeks"], "header": {"labels": false, "title": null}}}, "spacing": 9.5,
 "spec": {"width": 88, "height": 124, "resolve": {"axis": {"y": "independent"}}, "layer": [
  {"mark": {"type": "boxplot", "extent": 1.5, "size": 30, "outliers": false, "box": {"stroke": "#333333", "strokeWidth": 1.6}, "median": {"color": "#333333", "thickness": 3}, "rule": {"color": "#333333", "strokeWidth": 1.6}},
   "encoding": {"x": {"field": "visit", "type": "nominal", "scale": {"domain": ["0","1"], "paddingInner": 0.25, "paddingOuter": 0.225}, "axis": {"labels": false, "ticks": false, "title": null, "grid": true, "gridWidth": 1.6, "bandPosition": 0.5}},
    "y": {"field": "value", "type": "quantitative", "scale": {"domain": [-447, 9392], "nice": false, "zero": false}, "axis": {"title": null, "values": [0,2500,5000,7500], "format": "d", "labelOverlap": false, "tickSize": 5, "labelPadding": 3, "grid": true, "gridWidth": 1.6}},
    "color": {"field": "sub", "type": "nominal", "scale": {"domain": ["AHL","Adhesins","Cap BS","Biofilm","BF/S","Diadenylate","Persister","QS/YS","QS/PA"], "range": ["#66c2a5","#e5956a","#c4999d","#a894c8","#e28cbd","#a8d35c","#e3dd3a","#f4cf56","#ddc39a"]}, "legend": null}}},
  {"mark": {"type": "circle", "size": 60, "color": "black", "opacity": 1}, "encoding": {"x": {"field": "visit", "type": "nominal"}, "y": {"field": "value", "type": "quantitative", "axis": {"orient": "left", "title": null, "values": [1250,3750,6250,8750], "labels": false, "ticks": false, "domain": false, "grid": true, "gridWidth": 0.8}}}}
 ]}},
{"width": 36, "height": 124, "view": {"fill": "#d9d9d9", "stroke": "#333333", "strokeWidth": 2}, "data": {"values": [{"lab": "Persister Cells"}]}, "mark": {"type": "text", "angle": 90, "fontSize": 11, "lineHeight": 12, "color": "#1a1a1a", "lineBreak": "\n"}, "encoding": {"text": {"field": "lab"}}}
]},
{"spacing": 0, "hconcat": [
{"data": {"name": "pts"}, "transform": [{"filter": {"field": "sub", "equal": "QS/YS"}}], "facet": {"column": {"field": "time", "type": "ordinal", "sort": ["<=4 weeks","<=8 weeks","<=12 weeks",">12 weeks"], "header": {"labels": false, "title": null}}}, "spacing": 9.5,
 "spec": {"width": 88, "height": 124, "resolve": {"axis": {"y": "independent"}}, "layer": [
  {"mark": {"type": "boxplot", "extent": 1.5, "size": 30, "outliers": false, "box": {"stroke": "#333333", "strokeWidth": 1.6}, "median": {"color": "#333333", "thickness": 3}, "rule": {"color": "#333333", "strokeWidth": 1.6}},
   "encoding": {"x": {"field": "visit", "type": "nominal", "scale": {"domain": ["0","1"], "paddingInner": 0.25, "paddingOuter": 0.225}, "axis": {"labels": false, "ticks": false, "title": null, "grid": true, "gridWidth": 1.6, "bandPosition": 0.5}},
    "y": {"field": "value", "type": "quantitative", "scale": {"domain": [-7.65, 160.65], "nice": false, "zero": false}, "axis": {"title": null, "values": [0,50,100,150], "format": "d", "labelOverlap": false, "tickSize": 5, "labelPadding": 3, "grid": true, "gridWidth": 1.6}},
    "color": {"field": "sub", "type": "nominal", "scale": {"domain": ["AHL","Adhesins","Cap BS","Biofilm","BF/S","Diadenylate","Persister","QS/YS","QS/PA"], "range": ["#66c2a5","#e5956a","#c4999d","#a894c8","#e28cbd","#a8d35c","#e3dd3a","#f4cf56","#ddc39a"]}, "legend": null}}},
  {"mark": {"type": "circle", "size": 60, "color": "black", "opacity": 1}, "encoding": {"x": {"field": "visit", "type": "nominal"}, "y": {"field": "value", "type": "quantitative", "axis": {"orient": "left", "title": null, "values": [25,75,125], "labels": false, "ticks": false, "domain": false, "grid": true, "gridWidth": 0.8}}}}
 ]}},
{"width": 36, "height": 124, "view": {"fill": "#d9d9d9", "stroke": "#333333", "strokeWidth": 2}, "data": {"values": [{"lab": "QS/YS"}]}, "mark": {"type": "text", "angle": 90, "fontSize": 11, "lineHeight": 12, "color": "#1a1a1a", "lineBreak": "\n"}, "encoding": {"text": {"field": "lab"}}}
]},
{"spacing": 0, "hconcat": [
{"data": {"name": "pts"}, "transform": [{"filter": {"field": "sub", "equal": "QS/PA"}}], "facet": {"column": {"field": "time", "type": "ordinal", "sort": ["<=4 weeks","<=8 weeks","<=12 weeks",">12 weeks"], "header": {"labels": false, "title": null}}}, "spacing": 9.5,
 "spec": {"width": 88, "height": 124, "resolve": {"axis": {"y": "independent"}}, "layer": [
  {"mark": {"type": "boxplot", "extent": 1.5, "size": 30, "outliers": false, "box": {"stroke": "#333333", "strokeWidth": 1.6}, "median": {"color": "#333333", "thickness": 3}, "rule": {"color": "#333333", "strokeWidth": 1.6}},
   "encoding": {"x": {"field": "visit", "type": "nominal", "scale": {"domain": ["0","1"], "paddingInner": 0.25, "paddingOuter": 0.225}, "axis": {"labels": true, "labelAngle": -45, "labelAlign": "center", "labelBaseline": "middle", "labelPadding": 6, "ticks": true, "tickSize": 4, "title": null, "grid": true, "gridWidth": 1.6, "bandPosition": 0.5}},
    "y": {"field": "value", "type": "quantitative", "scale": {"domain": [-18.9, 396.9], "nice": false, "zero": false}, "axis": {"title": null, "values": [0,100,200,300], "format": "d", "labelExpr": "datum.value === 100 || datum.value === 200 ? '' : datum.label", "labelOverlap": false, "tickSize": 5, "labelPadding": 3, "grid": true, "gridWidth": 1.6}},
    "color": {"field": "sub", "type": "nominal", "scale": {"domain": ["AHL","Adhesins","Cap BS","Biofilm","BF/S","Diadenylate","Persister","QS/YS","QS/PA"], "range": ["#66c2a5","#e5956a","#c4999d","#a894c8","#e28cbd","#a8d35c","#e3dd3a","#f4cf56","#ddc39a"]}, "legend": null}}},
  {"mark": {"type": "circle", "size": 60, "color": "black", "opacity": 1}, "encoding": {"x": {"field": "visit", "type": "nominal"}, "y": {"field": "value", "type": "quantitative", "axis": {"orient": "left", "title": null, "values": [50,150,250,350], "labels": false, "ticks": false, "domain": false, "grid": true, "gridWidth": 0.8}}}}
 ]}},
{"width": 36, "height": 124, "view": {"fill": "#d9d9d9", "stroke": "#333333", "strokeWidth": 2}, "data": {"values": [{"lab": "QS/PA"}]}, "mark": {"type": "text", "angle": 90, "fontSize": 11, "lineHeight": 12, "color": "#1a1a1a", "lineBreak": "\n"}, "encoding": {"text": {"field": "lab"}}}
]}
]
}
]
},
{
"spacing": 0,
"vconcat": [
{"spacing": 80, "hconcat": [
{"width": 151, "height": 62, "view": {"stroke": null}, "data": {"values": [{"v": 200}, {"v": 100}]}, "mark": {"type": "text", "fontSize": 17, "color": "#4d4d4d"}, "encoding": {"y": {"field": "v", "type": "quantitative", "scale": {"domain": [80.6, 319], "nice": false, "zero": false}, "axis": null}, "text": {"field": "v", "type": "quantitative"}}},
{"width": 1, "height": 51, "view": {"stroke": null}, "data": {"values": [{"line": "0 = Pre-debridement"}, {"line": "1= Post-debridement"}]}, "mark": {"type": "text", "align": "left", "fontSize": 22, "color": "black"}, "encoding": {"y": {"field": "line", "type": "nominal", "sort": null, "scale": {"type": "point", "padding": 0.5}, "axis": {"title": "Visit", "titleAngle": 0, "titleAlign": "right", "titleBaseline": "middle", "titleFontSize": 24, "titleFontWeight": "normal", "titleColor": "black", "titlePadding": 21, "labels": false, "ticks": false, "domain": false, "grid": false}}, "text": {"field": "line"}}}
]},
{"spacing": 0, "hconcat": [
{"width": 59, "height": 320, "view": {"stroke": "black", "strokeWidth": 2}, "data": {"values": [{}]}, "mark": {"type": "text"}, "encoding": {}},
{"width": 60, "height": 333, "view": {"stroke": null}, "data": {"name": "legend"},
 "title": {"text": "Subsystem Level 3", "anchor": "start", "frame": "group", "dx": 13, "fontSize": 25.5, "fontWeight": "normal", "color": "black", "offset": 2},
 "encoding": {"y": {"field": "label", "type": "nominal", "sort": null, "scale": {"type": "point", "padding": 0.706}, "axis": null}},
 "layer": [
  {"mark": {"type": "tick", "orient": "vertical", "size": 32, "thickness": 2, "color": "#333333"}},
  {"mark": {"type": "point", "shape": "M-1.5,-1H1.5V1H-1.5Z", "size": 324, "filled": true, "opacity": 1, "stroke": "#333333", "strokeWidth": 2}, "encoding": {"color": {"field": "sub", "type": "nominal", "scale": {"domain": ["AHL","Adhesins","Cap BS","Biofilm","BF/S","Diadenylate","Persister","QS/YS","QS/PA"], "range": ["#66c2a5","#e5956a","#c4999d","#a894c8","#e28cbd","#a8d35c","#e3dd3a","#f4cf56","#ddc39a"]}, "legend": null}}},
  {"mark": {"type": "tick", "orient": "horizontal", "size": 27, "thickness": 2, "color": "#333333"}},
  {"mark": {"type": "circle", "size": 70, "color": "black", "opacity": 1}},
  {"mark": {"type": "text", "align": "left", "dx": 23, "fontSize": 18.5, "color": "black"}, "encoding": {"text": {"field": "label"}}}
 ]}
]}
]
}
]
}
